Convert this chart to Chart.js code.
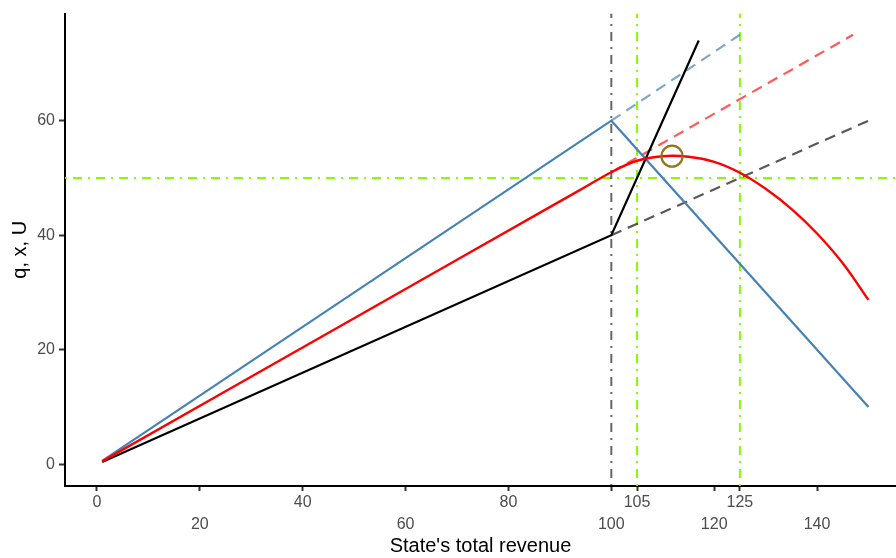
<!DOCTYPE html>
<html>
<head>
<meta charset="utf-8">
<script src="https://cdn.jsdelivr.net/npm/chart.js@4"></script>
<style>
  html, body { margin: 0; padding: 0; background: #fff; }
  canvas { display: block; }
</style>
</head>
<body>
<canvas id="revChart" width="896" height="558"></canvas>
<script>
// axis ticks
const xTicks = [0, 20, 40, 60, 80, 100, 105, 120, 125, 140];
const yTicks = [0, 20, 40, 60];

// q : blue line and its dashed extension
const qX = [1, 100, 150];
const qY = [0.6, 60, 10];
const qExtX = [100, 125];
const qExtY = [60, 75];

// x : black line and its dashed extension
const xX = [1, 100, 117];
const xY = [0.4, 40, 74];
const xExtX = [100, 150];
const xExtY = [40, 60];

// U : red curve and its dashed extension
const uX = [1, 50, 90, 95, 100, 105, 110, 115, 120, 125, 130, 135, 140, 145, 150];
const uY = [0.5, 25.5, 45.9, 48.45, 51.0, 53.0, 53.8, 53.7, 52.8, 50.9, 48.1, 44.6, 40.3, 35.1, 28.7];
const uExtX = [100, 147];
const uExtY = [51, 75];

// maximum of U
const peakX = [111.8];
const peakY = [53.8];

// reference lines
const grayV = [100];
const greenV = [105, 125];
const greenH = [50];

const X_MIN = -6.22, X_MAX = 155.35;
const Y_MIN = -3.8, Y_MAX = 78.7;

const pts = (xs, ys) => xs.map((v, i) => ({ x: v, y: ys[i] }));

function lineSet(xs, ys, color, dash, width) {
  return {
    data: pts(xs, ys),
    borderColor: color,
    borderWidth: width || 2.2,
    borderDash: dash || [],
    pointRadius: 0,
    fill: false,
    tension: 0
  };
}

const dotDash = [2, 6, 9, 6];
const dashed = [11, 7];

const datasets = [];
// peak marker
datasets.push({
  type: 'scatter',
  data: pts(peakX, peakY),
  pointRadius: 10.5,
  pointBorderWidth: 2.2,
  pointBorderColor: '#957419',
  pointBackgroundColor: 'rgba(0,0,0,0)'
});
// U curve, smoothed
const uSet = lineSet(uX, uY, '#ff0000', [], 2.4);
uSet.tension = 0.4;
datasets.push(uSet);
datasets.push(lineSet(xX, xY, '#000000'));
datasets.push(lineSet(qX, qY, '#4682b4'));
datasets.push(lineSet(uExtX, uExtY, 'rgba(255,0,0,0.65)', dashed));
datasets.push(lineSet(qExtX, qExtY, 'rgba(70,130,180,0.7)', dashed));
datasets.push(lineSet(xExtX, xExtY, 'rgba(0,0,0,0.65)', dashed));
// vertical and horizontal guides
grayV.forEach(v => datasets.push(lineSet([v, v], [Y_MIN, Y_MAX], 'rgba(0,0,0,0.6)', dotDash, 2)));
greenV.forEach(v => datasets.push(lineSet([v, v], [Y_MIN, Y_MAX], '#7fff00', dotDash, 2)));
greenH.forEach(v => datasets.push(lineSet([X_MIN, X_MAX], [v, v], '#7fff00', dotDash, 2)));

const tickFont = { family: 'Liberation Sans, Arial, sans-serif', size: 16, lineHeight: '22px' };
const titleFont = { family: 'Liberation Sans, Arial, sans-serif', size: 20 };

new Chart(document.getElementById('revChart'), {
  type: 'line',
  data: { datasets: datasets },
  options: {
    responsive: false,
    animation: false,
    devicePixelRatio: 1,
    layout: { autoPadding: false, padding: { top: 10, left: 0, right: 0, bottom: 0 } },
    plugins: { legend: { display: false }, tooltip: { enabled: false } },
    scales: {
      x: {
        type: 'linear',
        min: X_MIN,
        max: X_MAX,
        afterBuildTicks: (scale) => { scale.ticks = xTicks.map(v => ({ value: v })); },
        afterFit: (scale) => { scale.height = 72; },
        ticks: {
          autoSkip: false,
          maxRotation: 0,
          minRotation: 0,
          padding: 1,
          color: '#4d4d4d',
          font: tickFont,
          // alternate labels go on a second row
          callback: (value, index) => index % 2 ? ['', String(value)] : String(value)
        },
        grid: { drawOnChartArea: false, drawTicks: true, tickLength: 5, tickColor: '#333', tickWidth: 2 },
        border: { display: true, color: '#000', width: 2 },
        title: {
          display: true,
          text: "State's total revenue",
          color: '#000',
          font: titleFont,
          padding: { top: 0, bottom: 0 }
        }
      },
      y: {
        type: 'linear',
        min: Y_MIN,
        max: Y_MAX,
        afterBuildTicks: (scale) => { scale.ticks = yTicks.map(v => ({ value: v })); },
        afterFit: (scale) => { scale.width = 65; },
        ticks: { padding: 4, color: '#4d4d4d', font: { family: 'Liberation Sans, Arial, sans-serif', size: 16 } },
        grid: { drawOnChartArea: false, drawTicks: true, tickLength: 6, tickColor: '#333', tickWidth: 2 },
        border: { display: true, color: '#000', width: 2 },
        title: {
          display: true,
          text: 'q, x, U',
          color: '#000',
          font: titleFont,
          padding: { top: 8, bottom: 0 }
        }
      }
    }
  }
});
</script>
</body>
</html>
